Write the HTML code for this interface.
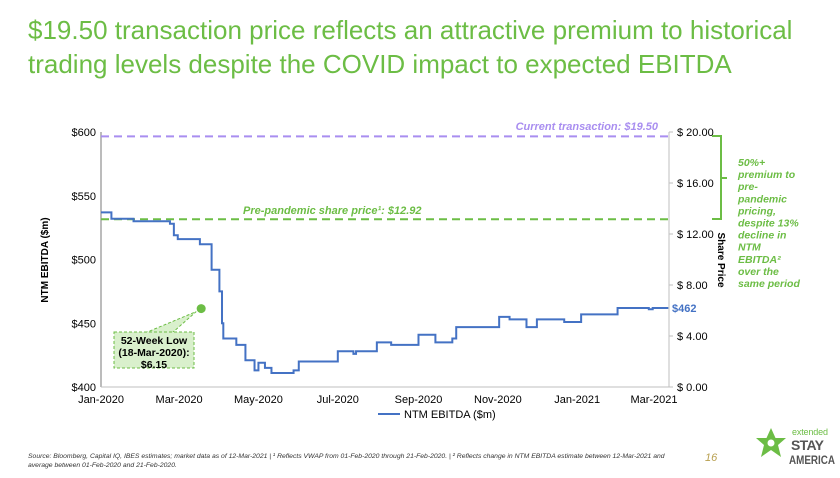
<!DOCTYPE html>
<html><head><meta charset="utf-8"><style>
body{margin:0;width:840px;height:473px;background:#fff;overflow:hidden;font-family:"Liberation Sans",Arial,sans-serif;}
</style></head><body>
<svg id="c" width="840" height="473" xmlns="http://www.w3.org/2000/svg" font-family="Liberation Sans, Arial, sans-serif">
<text x="28" y="39" font-size="26" fill="#6cbd45">$19.50 transaction price reflects an attractive premium to historical</text>
<text x="28" y="73" font-size="26" fill="#6cbd45">trading levels despite the COVID impact to expected EBITDA</text>
<g id="plot"></g>
</svg>
<script>
const xTickLabels=["Jan-2020","Mar-2020","May-2020","Jul-2020","Sep-2020","Nov-2020","Jan-2021","Mar-2021"];
const xTickDays=[0,60,121,182,244,305,366,425];
const yLeftTicks=[400,450,500,550,600];
const yRightTicks=[0,4,8,12,16,20];
const days=[0,8,25,53,56,59,62,76,84,85,88,91,93,94,104,111,118,119,121,126,131,148,152,182,194,196,212,223,244,257,267,270,273,303,306,314,327,335,356,369,397,421,424,436];
const ebitda=[537,532,530,528,519,516,516,512,512,492,492,475,450,438,433,421,413,413,419,415,411,413,420,428,426,428,435,433,441,435,435,438,447,447,455,453,447,453,451,457,462,461,462,462];
const currentPrice=19.5, prePandemic=12.92, lowPoint={day:77,price:6.15}, lastValue=462;

const NS="http://www.w3.org/2000/svg";
const g=document.getElementById('plot');
const X0=101,X1=669,Y0=387,Y1=132;
const xs=d=>X0+d*(654-X0)/425;
const yL=v=>Y0-(v-400)*(Y0-Y1)/200;
const yR=v=>Y0-v*(Y0-Y1)/20;
function el(t,a,txt){const e=document.createElementNS(NS,t);for(const k in a)e.setAttribute(k,a[k]);if(txt!=null)e.textContent=txt;g.appendChild(e);return e;}

let e;
e=el('line',{x1:X0,y1:Y1,x2:X0,y2:Y0,stroke:'#a6a6a6','stroke-width':1.5});


e=el('line',{x1:X1,y1:Y1,x2:X1,y2:Y0,stroke:'#bfbfbf','stroke-width':1});


e=el('line',{x1:X0,y1:Y0,x2:X1,y2:Y0,stroke:'#bfbfbf','stroke-width':1});



yLeftTicks.forEach(v=>{
 e=el('text',{x:96,y:yL(v)+4,'font-size':11,'text-anchor':'end',fill:'#000'},'$'+v);
 
 
});
yRightTicks.forEach(v=>{
 e=el('line',{x1:X1,y1:yR(v),x2:X1+4,y2:yR(v),stroke:'#bfbfbf'});
 
 
 e=el('text',{x:677,y:yR(v)+4,'font-size':11,fill:'#000'},'$ '+v.toFixed(2));
 
 
});
xTickLabels.forEach((l,i)=>{
 e=el('text',{x:xs(xTickDays[i]),y:403,'font-size':11,'text-anchor':'middle',fill:'#000'},l);
 
 
});

e=el('text',{transform:'translate(48,260) rotate(-90)','font-size':10,'font-weight':'bold','text-anchor':'middle'},'NTM EBITDA ($m)');


e=el('text',{transform:'translate(718,260) rotate(90)','font-size':10,'font-weight':'bold','text-anchor':'middle'},'Share Price');



e=el('line',{x1:X0,y1:yR(currentPrice)-2,x2:X1,y2:yR(currentPrice)-2,stroke:'#a98ef0','stroke-width':2,'stroke-dasharray':'8,5'});


e=el('text',{x:658,y:130,'font-size':11,'font-weight':'bold','font-style':'italic',fill:'#a98ef0','text-anchor':'end'},'Current transaction: $19.50');


e=el('line',{x1:X0,y1:yR(prePandemic)-3,x2:X1,y2:yR(prePandemic)-3,stroke:'#6cbd45','stroke-width':2,'stroke-dasharray':'8,5'});


e=el('text',{x:243,y:214,'font-size':11,'font-weight':'bold','font-style':'italic',fill:'#6cbd45'},'Pre-pandemic share price¹: $12.92');



let d='M'+xs(days[0])+','+yL(ebitda[0]);
for(let i=1;i<days.length;i++){d+=' L'+xs(days[i])+','+yL(ebitda[i-1])+' L'+xs(days[i])+','+yL(ebitda[i]);}
e=el('path',{d:d,fill:'none',stroke:'#4472c4','stroke-width':2});


e=el('text',{x:672,y:yL(lastValue)+4,'font-size':11,'font-weight':'bold',fill:'#4472c4'},'$'+lastValue);



const lx=xs(lowPoint.day),ly=yR(lowPoint.price);
e=el('path',{d:`M145,333 L${lx-5},${ly+3} L172,333`,fill:'#d9f0cc',stroke:'#6cbd45','stroke-dasharray':'3,2'});


e=el('rect',{x:114,y:332,width:80,height:36,fill:'#d9f0cc',stroke:'#6cbd45','stroke-dasharray':'3,2'});


[['52-Week Low',344],['(18-Mar-2020):',356],['$6.15',368]].forEach(t=>{
 e=el('text',{x:154,y:t[1],'font-size':10.5,'font-weight':'bold','text-anchor':'middle'},t[0]);
 
 
});
e=el('circle',{cx:lx,cy:ly,r:4.5,fill:'#6cbd45'});



e=el('path',{d:'M712,136 L721,136 L721,219 L712,219 M721,178 L727,178',fill:'none',stroke:'#6cbd45','stroke-width':2});


['50%+','premium to','pre-','pandemic','pricing,','despite 13%','decline in','NTM','EBITDA²','over the','same period'].forEach((t,i)=>{
 e=el('text',{x:738,y:166+i*12.1,'font-size':10.5,'font-weight':'bold','font-style':'italic',fill:'#6cbd45'},t);
 
 
});

e=el('line',{x1:378,y1:414,x2:400,y2:414,stroke:'#4472c4','stroke-width':2});


e=el('text',{x:404,y:418,'font-size':11},'NTM EBITDA ($m)');



e=el('text',{x:28,y:458,'font-size':6.8,'font-style':'italic',fill:'#333'},'Source: Bloomberg, Capital IQ, IBES estimates; market data as of 12-Mar-2021 | ¹ Reflects VWAP from 01-Feb-2020 through 21-Feb-2020. | ² Reflects change in NTM EBITDA estimate between 12-Mar-2021 and');


e=el('text',{x:28,y:467,'font-size':6.8,'font-style':'italic',fill:'#333'},'average between 01-Feb-2020 and 21-Feb-2020.');


e=el('text',{x:705,y:461,'font-size':11,'font-style':'italic',fill:'#b8a050'},'16');


e=el('path',{d:'M771,428 L775.5,438 L786,438 L778,445 L781,457 L771,450 L761,457 L764,445 L756,438 L766.5,438 Z',fill:'#6cbd45'});


e=el('circle',{cx:771,cy:443,r:3.5,fill:'#fff'});


e=el('text',{x:792,y:435,'font-size':9,fill:'#6cbd45',textLength:36},'extended');


e=el('text',{x:791,y:450,'font-size':14,fill:'#555','font-weight':'bold',textLength:33},'STAY');


e=el('text',{x:789,y:464,'font-size':12,fill:'#555','font-weight':'bold',textLength:46,lengthAdjust:'spacingAndGlyphs'},'AMERICA');


</script>
</body></html>
